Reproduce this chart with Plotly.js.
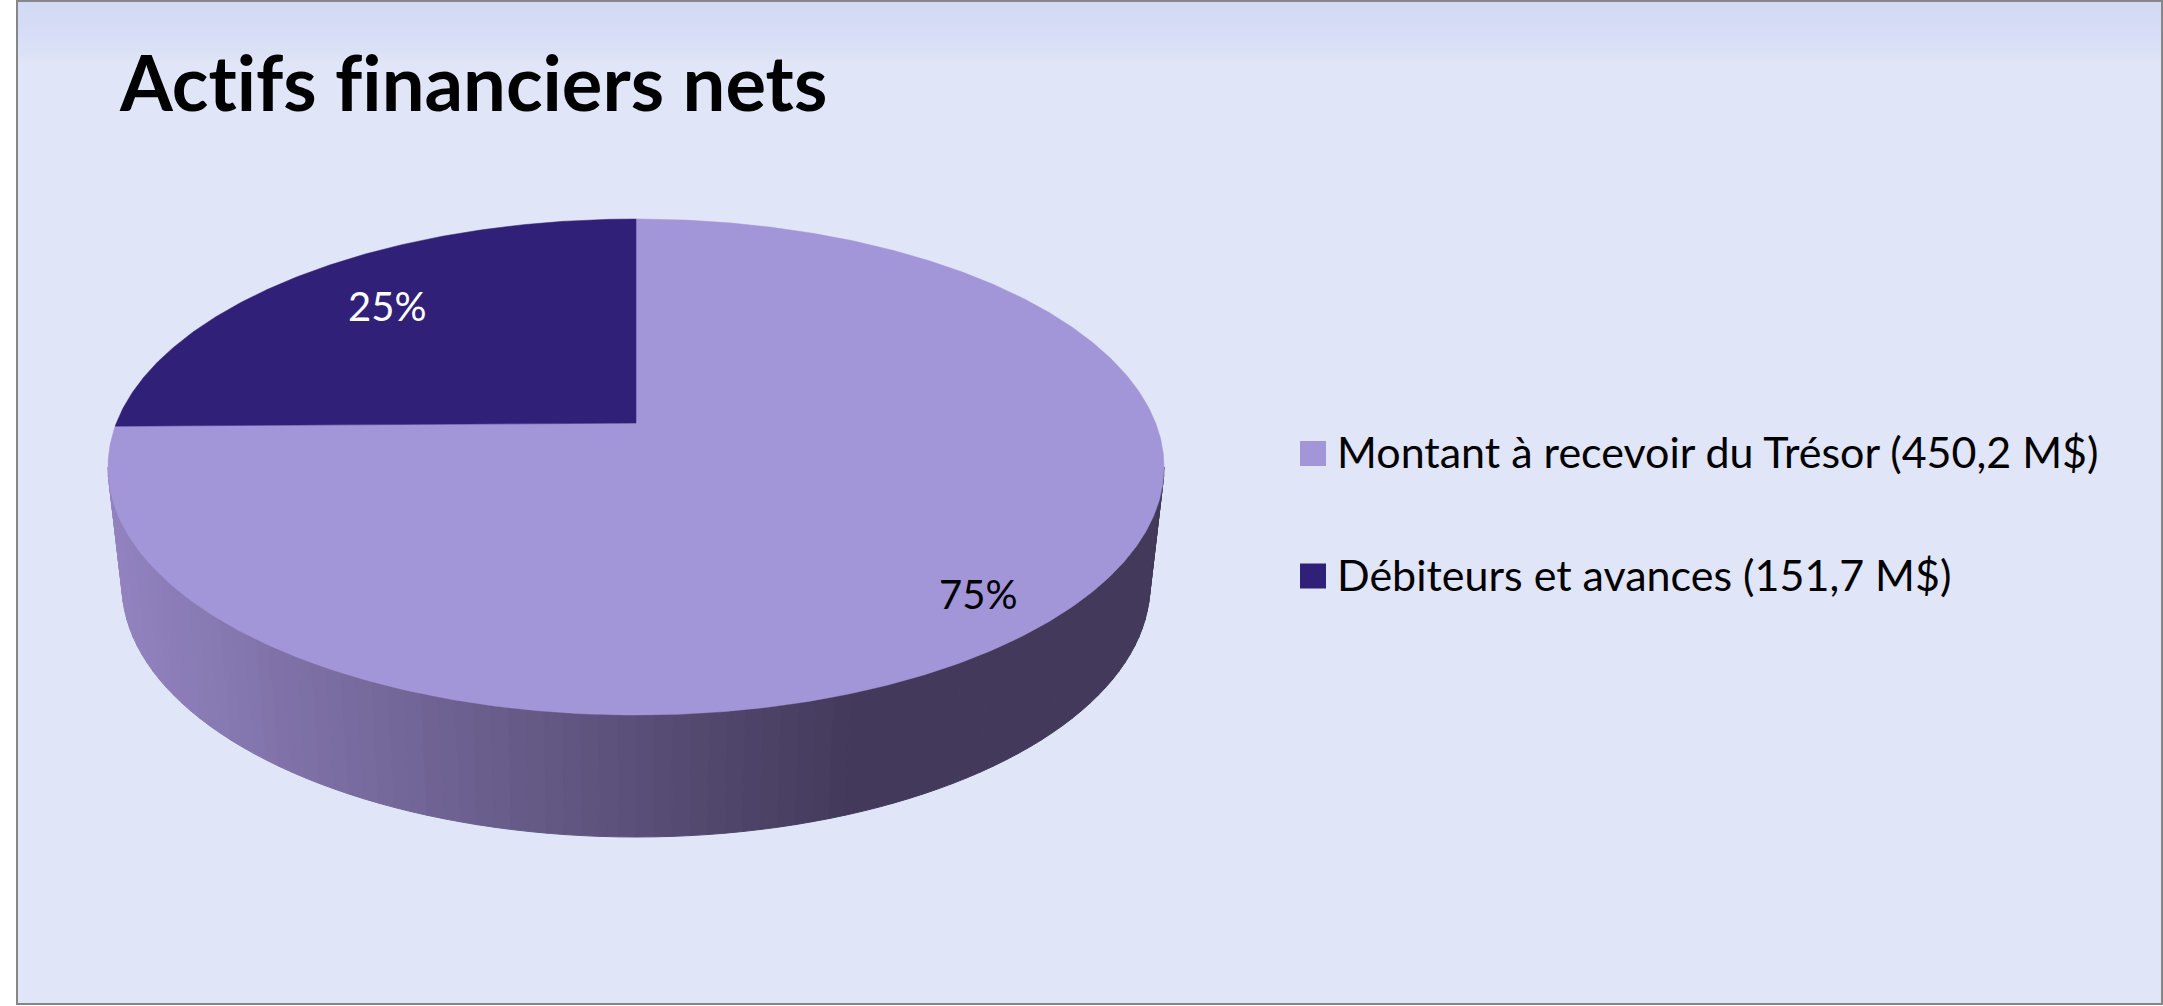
<!DOCTYPE html>
<html><head><meta charset="utf-8">
<script src="https://cdn.plot.ly/plotly-3.0.1.min.js"></script>
<style>html,body{margin:0;padding:0;background:#fff;overflow:hidden}#chart{width:2163px;height:1006px}
svg text{font-variant-ligatures:none;font-feature-settings:"liga" 0,"clig" 0}</style>
</head><body><div id="chart"></div>
<script>
const chartTitle = "Actifs financiers nets";
const categories = ["Montant à recevoir du Trésor", "Débiteurs et avances"];
const values = [450.2, 151.7];
const unit = " M$";
const sliceColors = ["#A295D8", "#312077"];
const labelColors = ["#000000", "#ffffff"];

const W = 2163, H = 1006;
const top3d = {cx:636, cy:467, rx:528, ry:248};
const bot3d = {cx:636, cy:585, rx:514, ry:252};
const tilt = 0.177;
const total = values.reduce((a,b)=>a+b,0);
const shares = values.map(v=>v/total);
const labelPos = [[978,594],[387,306]];
const legendKeyY = [453.5, 576];

function project(r, theta){
  const u = r*Math.sin(theta), v = r*Math.cos(theta);
  const d = 1 + tilt*v;
  const X = u*Math.sqrt(1-tilt*tilt)/d, Y = (v+tilt)/d;
  return [top3d.cx + top3d.rx*X, top3d.cy - top3d.ry*Y];
}
function frac(a,b,t){return a+(b-a)*t;}
function sideColor(x){
  const t = Math.max(0,Math.min(1,(x-108)/(851-108)));
  return `rgb(${Math.round(frac(146,67,t))},${Math.round(frac(131,58,t))},${Math.round(frac(192,91,t))})`;
}
const traces = [];
const step = 2;
for(let a=180;a<360;a+=step){
  const xs=[],ys=[];
  [a,a+step].forEach(d=>{const t=d*Math.PI/180;xs.push(top3d.cx+top3d.rx*Math.cos(t));ys.push(top3d.cy-top3d.ry*Math.sin(t));});
  [a+step,a].forEach(d=>{const t=d*Math.PI/180;xs.push(bot3d.cx+bot3d.rx*Math.cos(t));ys.push(bot3d.cy-bot3d.ry*Math.sin(t));});
  xs.push(xs[0]);ys.push(ys[0]);
  const c = sideColor((xs[0]+xs[1])/2);
  traces.push({type:"scatter",mode:"lines",x:xs,y:ys,fill:"toself",fillcolor:c,line:{color:c,width:1},hoverinfo:"skip",showlegend:false});
}
let start=0;
shares.forEach((s,i)=>{
  const end=start+s*2*Math.PI;
  const xs=[],ys=[];
  const c0=project(0,0);xs.push(c0[0]);ys.push(c0[1]);
  const n=Math.ceil(s*720);
  for(let k=0;k<=n;k++){const p=project(1,start+(end-start)*k/n);xs.push(p[0]);ys.push(p[1]);}
  xs.push(c0[0]);ys.push(c0[1]);
  traces.push({type:"scatter",mode:"lines",x:xs,y:ys,fill:"toself",fillcolor:sliceColors[i],line:{color:sliceColors[i],width:0.5},
    name:categories[i],text:categories[i]+" ("+values[i]+unit+")",hoverinfo:"text",showlegend:false});
  start=end;
});
categories.forEach((c,i)=>{
  traces.push({type:"scatter",mode:"markers",x:[null],y:[null],name:c+" ("+String(values[i]).replace(".",",")+unit+")",
    legendgroup:"g"+i,marker:{symbol:"square",size:16,color:sliceColors[i]},hoverinfo:"skip",showlegend:true});
});
const stops=[[2,[210,218,244]],[24,[212,219,245]],[32,[216,221,247]],[50,[219,225,245]],[62,[224,229,247]]];
const shapes=[];
shapes.push({type:"rect",xref:"x",yref:"y",x0:17,x1:2162,y0:1,y1:1004,fillcolor:"#E0E5F7",line:{width:0},layer:"below"});
for(let s=0;s<stops.length-1;s++){
  const [y0,c0]=stops[s],[y1,c1]=stops[s+1];
  for(let y=y0;y<y1;y+=2){
    const t=(y-y0)/(y1-y0);
    const col=`rgb(${c0.map((v,j)=>Math.round(frac(v,c1[j],t))).join(",")})`;
    shapes.push({type:"rect",xref:"x",yref:"y",x0:17,x1:2162,y0:y,y1:y+2,fillcolor:col,line:{width:0},layer:"below"});
  }
}
shapes.push({type:"rect",xref:"x",yref:"y",x0:17,x1:2162,y0:1,y1:1004,fillcolor:"rgba(0,0,0,0)",line:{color:"#868686",width:2},layer:"above"});
legendKeyY.forEach((y,i)=>shapes.push({type:"rect",xref:"x",yref:"y",x0:1300,x1:1326,y0:y-12.5,y1:y+12.5,fillcolor:sliceColors[i],line:{width:0},layer:"above"}));

const annotations = shares.map((s,i)=>({x:labelPos[i][0],y:labelPos[i][1],xref:"x",yref:"y",showarrow:false,
  text:Math.round(s*100)+"%",font:{family:"Lato",size:40,color:labelColors[i]},xanchor:"center",yanchor:"middle"}));

const layout={
  width:W,height:H,margin:{l:0,r:0,t:0,b:0,pad:0},
  paper_bgcolor:"#ffffff",plot_bgcolor:"rgba(0,0,0,0)",
  title:{text:chartTitle,x:120/W,xanchor:"left",xref:"paper",y:1-84/H,yanchor:"middle",yref:"paper",
    font:{family:"Lato",size:76,weight:700,color:"#000000"}},
  xaxis:{range:[0,W],visible:false,fixedrange:true},
  yaxis:{range:[H,0],visible:false,fixedrange:true},
  showlegend:true,
  legend:{x:1297/W,xanchor:"left",y:1-513/H,yanchor:"middle",tracegroupgap:63.5,bgcolor:"rgba(0,0,0,0)",
    font:{family:"Lato",size:43,color:"#000000"},itemsizing:"trace"},
  shapes,annotations
};
Plotly.newPlot("chart",traces,layout,{displayModeBar:false});
</script></body></html>
